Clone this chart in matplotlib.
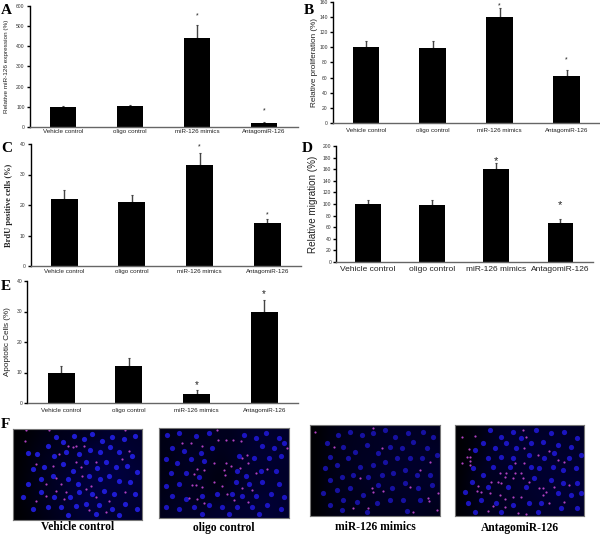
import numpy as np
import matplotlib
matplotlib.use("Agg")
import matplotlib.pyplot as plt

W, H = 600, 534

groups = ["Vehicle control", "oligo control", "miR-126 mimics", "AntagomiR-126"]

# bar heights, upper errors, asterisk heights
a_vals = [100, 105, 438, 22]
a_errs = [5, 6, 65, 5]
a_stars = [None, None, 549, 82]
b_vals = [100, 99, 140, 62]
b_errs = [8, 9, 12, 8]
b_stars = [None, None, 155, 83]
c_vals = [22, 21, 33, 14]
c_errs = [2.8, 2.4, 4, 1.4]
c_stars = [None, None, 39, 16.7]
d_vals = [100, 99, 160, 68]
d_errs = [7, 8, 10, 7]
d_stars = [None, None, 174, 98]
e_vals = [10, 12, 3, 30]
e_errs = [2, 2.8, 1.2, 3.8]
e_stars = [None, None, 5.8, 35.7]

# blue brightness of the micrographs, estimated on a coarse grid
blue_1 = [[.02, .06, .12, .16, .18, .20, .24, .30, .30, .28],
          [.02, .10, .16, .20, .22, .32, .38, .36, .34, .30],
          [.02, .10, .20, .24, .26, .30, .36, .40, .38, .32],
          [.03, .12, .18, .26, .30, .34, .40, .42, .40, .36],
          [.03, .14, .20, .24, .34, .36, .40, .40, .38, .34],
          [.03, .12, .20, .24, .34, .42, .42, .36, .36, .32],
          [.02, .08, .14, .20, .26, .32, .34, .30, .30, .26]]
blue_2 = [[.12, .18, .16, .18, .20, .18, .26, .30, .30, .28],
          [.14, .20, .22, .22, .18, .20, .26, .32, .30, .28],
          [.12, .20, .24, .22, .14, .18, .28, .30, .32, .30],
          [.12, .18, .22, .16, .10, .14, .28, .26, .30, .26],
          [.14, .20, .22, .16, .10, .16, .30, .28, .30, .28],
          [.16, .24, .20, .20, .18, .26, .28, .32, .34, .32],
          [.18, .26, .24, .26, .30, .32, .30, .34, .34, .30]]
blue_3 = [[.02, .10, .16, .20, .22, .24, .24, .24, .24, .20],
          [.02, .12, .18, .20, .22, .24, .26, .26, .26, .24],
          [.02, .12, .16, .22, .22, .24, .26, .28, .28, .26],
          [.02, .14, .18, .20, .24, .26, .26, .28, .28, .28],
          [.02, .14, .18, .20, .22, .26, .26, .24, .26, .26],
          [.02, .14, .18, .18, .20, .22, .22, .24, .24, .22],
          [.02, .10, .14, .16, .18, .18, .20, .20, .20, .18]]
blue_4 = [[.02, .08, .16, .26, .30, .28, .26, .28, .28, .24],
          [.02, .08, .18, .28, .32, .32, .30, .30, .28, .26],
          [.02, .10, .20, .30, .34, .30, .32, .30, .30, .30],
          [.03, .16, .24, .26, .24, .26, .30, .32, .30, .30],
          [.03, .18, .20, .20, .24, .28, .30, .30, .34, .34],
          [.03, .18, .22, .22, .24, .26, .30, .32, .34, .32],
          [.03, .12, .20, .22, .22, .24, .26, .28, .28, .26]]

cells_1 = [(45, 72), (72, 75), (105, 50), (130, 25), (150, 40), (185, 20), (215, 30), (240, 15), (268, 35),
           (300, 25), (335, 30), (370, 20), (125, 80), (160, 70), (200, 75), (232, 62), (262, 70), (292, 55),
           (320, 70), (360, 80), (60, 120), (95, 115), (150, 105), (180, 125), (222, 100), (255, 118),
           (280, 100), (310, 115), (345, 110), (375, 130), (45, 165), (85, 150), (120, 140), (165, 150),
           (195, 165), (230, 140), (262, 150), (290, 140), (320, 155), (355, 160), (30, 205), (85, 190),
           (125, 205), (172, 205), (200, 190), (240, 195), (275, 185), (305, 195), (370, 195), (60, 240),
           (105, 235), (145, 235), (190, 230), (222, 225), (260, 228), (300, 240), (340, 225), (375, 240),
           (250, 255), (165, 258), (320, 258)]
cells_2 = [(25, 20), (60, 15), (110, 25), (150, 15), (255, 20), (290, 30), (320, 15), (360, 30), (40, 60),
           (75, 70), (125, 75), (160, 60), (310, 55), (345, 60), (375, 45), (20, 95), (55, 105), (95, 95),
           (135, 100), (240, 85), (285, 90), (330, 90), (365, 85), (35, 135), (80, 135), (120, 150), (235, 130),
           (260, 145), (305, 130), (350, 130), (20, 175), (60, 170), (230, 165), (270, 170), (310, 165), (360, 170),
           (40, 205), (80, 215), (130, 205), (175, 200), (220, 200), (250, 205), (290, 205), (335, 200), (375, 210),
           (20, 240), (60, 245), (105, 240), (150, 235), (190, 240), (235, 240), (280, 240), (325, 235), (365, 245),
           (130, 262), (210, 262), (300, 262)]
cells_3 = [(50, 55), (85, 30), (120, 20), (155, 30), (190, 25), (225, 15), (255, 35), (295, 25), (340, 20), (370, 35),
           (60, 95), (100, 65), (135, 80), (170, 60), (205, 85), (240, 65), (275, 70), (310, 50), (350, 70), (380, 90),
           (45, 130), (80, 120), (115, 100), (150, 125), (190, 120), (225, 110), (260, 100), (300, 100), (335, 100),
           (60, 165), (95, 155), (130, 150), (175, 155), (215, 150), (250, 145), (285, 135), (320, 150), (360, 150),
           (40, 205), (80, 195), (120, 190), (160, 210), (205, 180), (245, 190), (285, 175), (325, 190), (365, 180),
           (60, 240), (100, 225), (140, 230), (200, 235), (240, 225), (280, 225), (330, 225), (95, 255), (170, 260), (290, 258)]
cells_4 = [(105, 15), (140, 35), (175, 20), (200, 40), (245, 15), (290, 25), (330, 20), (370, 40), (85, 55), (120, 70),
           (155, 55), (185, 70), (230, 55), (265, 50), (310, 60), (350, 65), (60, 75), (100, 100), (140, 95), (175, 100),
           (225, 90), (270, 100), (300, 85), (345, 100), (380, 90), (55, 130), (85, 150), (115, 125), (165, 125),
           (230, 125), (255, 130), (295, 125), (325, 135), (365, 130), (30, 200), (50, 170), (100, 185), (160, 185),
           (215, 185), (240, 160), (290, 165), (325, 175), (370, 175), (40, 235), (80, 225), (125, 235), (175, 240),
           (225, 235), (260, 235), (310, 205), (350, 210), (380, 205), (60, 262), (140, 262), (250, 262), (320, 250), (370, 250)]

spots_1 = [(35, 35), (38, 3), (110, 3), (340, 3), (165, 50), (190, 50), (215, 50), (180, 55),
           (70, 105), (120, 110), (205, 115), (250, 100), (130, 147), (100, 165), (145, 165),
           (210, 140), (235, 170), (130, 185), (160, 190), (220, 180), (155, 210), (70, 215),
           (250, 205), (290, 215), (340, 190), (230, 243), (280, 250), (350, 65), (330, 90),
           (100, 200), (190, 100), (140, 75)]
spots_2 = [(175, 5), (178, 35), (200, 35), (222, 35), (245, 38), (68, 47), (95, 47), (130, 55),
           (385, 62), (265, 82), (248, 90), (165, 105), (200, 107), (215, 115), (268, 107),
           (115, 125), (135, 127), (195, 127), (243, 122), (290, 135), (323, 125), (105, 140),
           (197, 142), (165, 165), (190, 175), (110, 172), (98, 172), (130, 180), (250, 182),
           (280, 187), (90, 212), (115, 215), (225, 218), (135, 228), (268, 225), (205, 200)]
spots_3 = [(15, 22), (188, 10), (72, 65), (215, 68), (150, 160), (185, 188), (218, 198), (190, 200),
           (175, 250), (355, 218), (358, 228), (385, 205), (382, 255), (360, 110), (330, 135),
           (300, 185), (310, 260), (130, 250)]
spots_4 = [(60, 32), (20, 35), (42, 72), (45, 95), (35, 97), (45, 107), (22, 113), (45, 120),
           (205, 15), (215, 35), (208, 70), (283, 78), (250, 90), (310, 105), (330, 110), (210, 115),
           (180, 115), (135, 145), (155, 145), (150, 155), (180, 143), (200, 143), (175, 160),
           (205, 160), (225, 170), (70, 182), (110, 172), (130, 172), (140, 175), (80, 200),
           (105, 203), (65, 197), (135, 210), (150, 222), (175, 217), (200, 215), (265, 190),
           (255, 190), (275, 200), (300, 185), (265, 210), (115, 243), (285, 235), (100, 258),
           (190, 265), (215, 268), (345, 180), (330, 232), (150, 245)]

SANS = "Liberation Sans"
SERIF = "Liberation Serif"

fig = plt.figure(figsize=(W / 100, H / 100), dpi=100, facecolor="white")


def box(left, top, right, bottom):
    return fig.add_axes([left / W, 1 - bottom / H, (right - left) / W, (bottom - top) / H])


def bar_panel(pos, vals, errs, stars, ymax, ystep, ylabel, xsize, labsize, pad, labx,
              labfont=SANS, labweight="normal", starsize=5):
    ax = box(*pos)
    x = np.arange(len(vals))
    ax.errorbar(x, vals, yerr=[[0] * len(errs), errs], fmt="none", ecolor="#444444",
                elinewidth=1, capsize=1, capthick=0.8, zorder=1)
    ax.bar(x, vals, width=0.4, color="black", zorder=2)
    for i, s in enumerate(stars):
        if s is not None:
            ax.text(i, s, "*", ha="center", va="center", fontsize=starsize, family=SANS, color="#222222")
    ax.set_xlim(-0.5, len(vals) - 0.5)
    ax.set_ylim(0, ymax)
    ax.set_yticks(np.arange(0, ymax + 1, ystep))
    ax.set_xticks(x)
    ax.set_xticklabels(groups, fontsize=xsize, family=SANS, color="#222222")
    ax.tick_params(axis="x", length=0, pad=pad)
    ax.tick_params(axis="y", length=2, width=1, pad=1.5, labelsize=3.6, labelcolor="#333333")
    for spine in ("top", "right"):
        ax.spines[spine].set_visible(False)
    ax.spines["left"].set_linewidth(1)
    ax.spines["bottom"].set_linewidth(1)
    ax.spines["bottom"].set_color("#666666")
    ax.set_ylabel(ylabel, fontsize=labsize, family=labfont, weight=labweight, color="#222222")
    # label x is given in pixels from the axes' left edge
    ax.yaxis.set_label_coords(labx / (pos[2] - pos[0]), 0.5)
    for t in ax.get_yticklabels():
        t.set_family(SANS)
    return ax


bar_panel((29.5, 5.7, 297.5, 127), a_vals, a_errs, a_stars, 600, 100, "Relative miR-126 expression (%)",
          4.5, 4.6, 1.5, -20)
bar_panel((332.5, 1.7, 600, 123), b_vals, b_errs, b_stars, 160, 20, "Relative proliferation (%)",
          4.5, 5.9, 3.5, -15)
bar_panel((30.5, 144, 301, 266), c_vals, c_errs, c_stars, 40, 10, "BrdU positive cells (%)",
          4.5, 6, 2.5, -18, labfont=SERIF, labweight="bold")
bar_panel((336, 146, 592.5, 262), d_vals, d_errs, d_stars, 200, 20, "Relative migration (%)",
          6, 7.1, 3, -18, starsize=8)
bar_panel((27.5, 281, 298, 403), e_vals, e_errs, e_stars, 40, 10, "Apoptotic Cells (%)",
          4.5, 5.9, 3.5, -16, starsize=7)

# panel letters
letters = [("A", 1, 11), ("B", 304, 10), ("C", 1, 149), ("D", 302, 148), ("E", 1, 287), ("F", 1, 424)]
for name, px, py in letters:
    fig.text(px / W, 1 - py / H, name, fontsize=11, family=SERIF, weight="bold", ha="left", va="center")

# micrographs
frames = [((13, 429, 142, 520), blue_1, cells_1, spots_1, "#2420f0", "Vehicle control"),
          ((159, 428, 289, 518), blue_2, cells_2, spots_2, "#2018dc", "oligo control"),
          ((310, 425, 440, 516), blue_3, cells_3, spots_3, "#1a14b8", "miR-126 mimics"),
          ((455, 425, 584, 516), blue_4, cells_4, spots_4, "#2018dc", "AntagomiR-126")]
for pos, blue, cells, spots, cell_color, name in frames:
    ax = box(*pos)
    grid = np.array(blue)
    rgb = np.dstack([np.zeros_like(grid), np.zeros_like(grid), grid * 0.6])
    ax.imshow(np.clip(rgb, 0, 1), extent=(0, 390, 273, 0), aspect="auto", interpolation="bicubic")
    cx, cy = zip(*cells)
    ax.scatter(cx, cy, s=14, color=cell_color, alpha=0.85, linewidths=0)
    sx, sy = zip(*spots)
    ax.scatter(sx, sy, s=2.5, color="#b040c0", linewidths=0)
    ax.set_xlim(0, 390)
    ax.set_ylim(273, 0)
    ax.set_xticks([])
    ax.set_yticks([])
    for spine in ax.spines.values():
        spine.set_color("#777777")
        spine.set_linewidth(0.8)
    fig.text((pos[0] + pos[2]) / 2 / W, 1 - 527.5 / H, name, fontsize=8.3, family=SERIF, weight="bold",
             ha="center", va="center")

fig.savefig("out.png", dpi=100)
